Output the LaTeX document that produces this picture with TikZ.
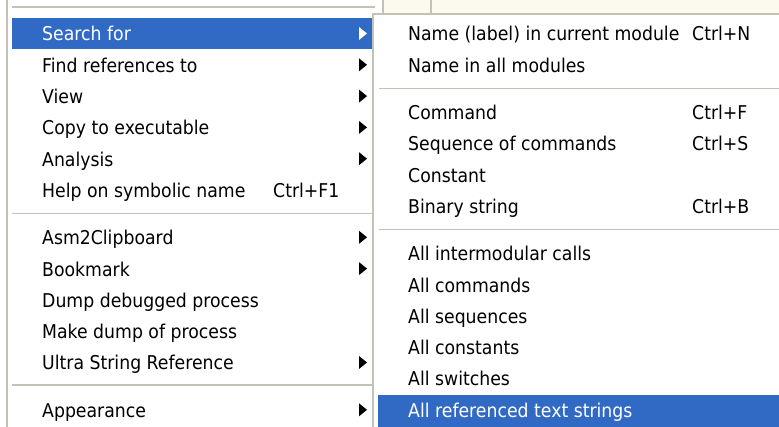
\documentclass[tikz,border=0pt]{standalone}
\usepackage{fontspec}
\setmainfont{DejaVu Sans}[FakeStretch=0.91]
\definecolor{selblue}{HTML}{316AC5}
\definecolor{edgegray}{HTML}{C4C1B6}
\definecolor{cream}{HTML}{FDF9EE}
\tikzset{
  item/.style={anchor=base west, inner sep=0pt, font=\fontsize{19}{19}\selectfont, text=black},
  selitem/.style={item, text=white},
  sepline/.style={draw=edgegray, line width=1.5pt},
  frameline/.style={draw=edgegray, line width=1.5pt},
}
\newcommand{\menuarrow}[2]{\fill[#2] (359,{#1-6.5}) -- (367,#1) -- (359,{#1+6.5}) -- cycle;}
\begin{document}
\begin{tikzpicture}[x=1pt,y=-1pt]
\useasboundingbox (0,0) rectangle (779,427);
\fill[white] (0,0) rectangle (779,427);
% background strip behind submenu
\fill[cream] (383,0) rectangle (779,14);
\draw[frameline] (383,0) -- (383,14);
\draw[frameline] (431,0) -- (431,14);
% left menu
\draw[frameline] (7,0) -- (7,427);
\draw[sepline] (12,7) -- (375,7);
\fill[selblue] (12,18) rectangle (372,49);
\node[selitem] (s1) at (42,41) {Search for};
\menuarrow{33.5}{white}
\node[item] (s2) at (42,72.3) {Find references to};
\menuarrow{64.8}{black}
\node[item] (s3) at (42,103.6) {View};
\menuarrow{96.1}{black}
\node[item] (s4) at (42,134.9) {Copy to executable};
\menuarrow{127.4}{black}
\node[item] (s5) at (42,166.2) {Analysis};
\menuarrow{158.7}{black}
\node[item] (s6) at (42,197.5) {Help on symbolic name};
\node[item] (k6) at (273,197.5) {Ctrl+F1};
\draw[sepline] (12,213.5) -- (372,213.5);
\node[item] (s7) at (42,244.8) {Asm2Clipboard};
\menuarrow{237.3}{black}
\node[item] (s8) at (42,276.1) {Bookmark};
\menuarrow{268.6}{black}
\node[item] (s9) at (42,307.4) {Dump debugged process};
\node[item] (s10) at (42,338.7) {Make dump of process};
\node[item] (s11) at (42,370) {Ultra String Reference};
\menuarrow{362.5}{black}
\draw[sepline] (12,385) -- (372,385);
\node[item] (s12) at (42,417.3) {Appearance};
\menuarrow{409.8}{black}
% submenu
\fill[white] (373,14) rectangle (779,427);
\draw[frameline] (373,427) -- (373,14) -- (779,14);
\node[item] (m1) at (408,41) {Name (label) in current module};
\node[item] (n1) at (692,41) {Ctrl+N};
\node[item] (m2) at (408,72.3) {Name in all modules};
\draw[sepline] (379,88.5) -- (779,88.5);
\node[item] (m3) at (408,119.6) {Command};
\node[item] (n3) at (692,119.6) {Ctrl+F};
\node[item] (m4) at (408,150.9) {Sequence of commands};
\node[item] (n4) at (692,150.9) {Ctrl+S};
\node[item] (m5) at (408,182.2) {Constant};
\node[item] (m6) at (408,213.5) {Binary string};
\node[item] (n6) at (692,213.5) {Ctrl+B};
\draw[sepline] (379,229.5) -- (779,229.5);
\node[item] (m7) at (408,260.8) {All intermodular calls};
\node[item] (m8) at (408,292.1) {All commands};
\node[item] (m9) at (408,323.4) {All sequences};
\node[item] (m10) at (408,354.7) {All constants};
\node[item] (m11) at (408,386) {All switches};
\fill[selblue] (378,395) rectangle (779,427);
\node[selitem] (m12) at (408,417.3) {All referenced text strings};
\end{tikzpicture}
\end{document}
